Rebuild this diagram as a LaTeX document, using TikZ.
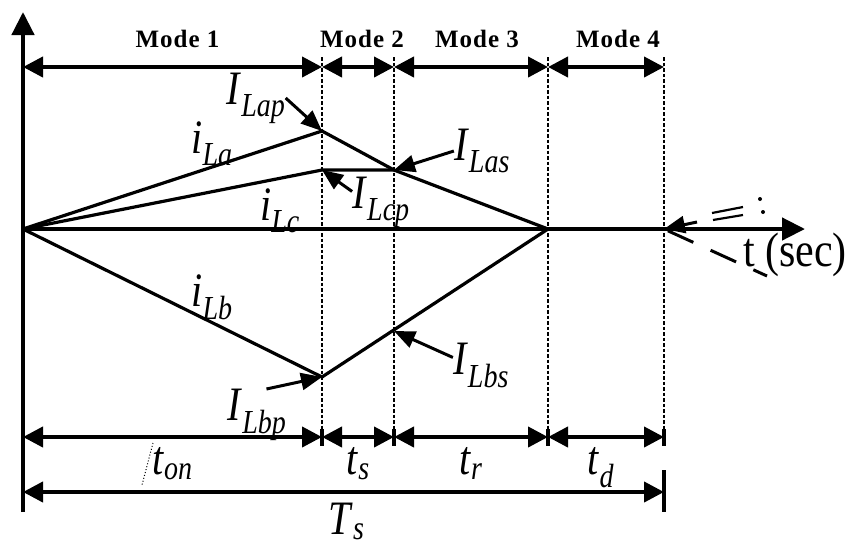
\documentclass[tikz,border=0pt]{standalone}
\usepackage{graphicx}
\usepackage{fontspec}
\setmainfont{Liberation Serif}
\newfontfamily\labfont{Liberation Serif}
\newfontfamily\modefont[LetterSpace=4]{Liberation Serif}
\usetikzlibrary{arrows.meta,positioning,calc}
\newcommand\cur[2]{\scalebox{1}[1.2]{\textit{#1}\textsubscript{\textit{#2}}}}
\tikzset{
  wavaxis/.style={line width=4.5pt,-{Triangle[length=23pt,width=22pt]}},
  wavcurve/.style={line width=3.2pt,line join=miter},
  wavguide/.style={line width=1.3pt,dash pattern=on 3.5pt off 2pt},
  wavspan/.style={line width=4pt,{Triangle[length=20pt,width=20pt]}-{Triangle[length=20pt,width=20pt]}},
  wavtotal/.style={line width=4pt,{Triangle[length=20pt,width=20pt]}-{Triangle[length=20pt,width=20pt]}},
  wavtick/.style={line width=4pt},
  wavpoint/.style={line width=3pt,-{Triangle[length=21pt,width=17pt]}},
  wavdash/.style={line width=3pt,dash pattern=on 28pt off 19pt,dash phase=13pt},
  wavmode/.style={font=\modefont\bfseries\fontsize{25}{25}\selectfont,inner sep=0pt},
  wavlabel/.style={font=\labfont\fontsize{40}{40}\selectfont,inner sep=0pt},
}

\begin{document}
\begin{tikzpicture}[x=1pt,y=-1pt]
\useasboundingbox (0,0) rectangle (849,547);
% time instants on the axis
\coordinate (o) at (23,229);
\coordinate (t1) at (322,229);
\coordinate (t2) at (394,229);
\coordinate (t3) at (548,229);
\coordinate (t4) at (664,229);
\coordinate (xend) at (805,229);
\coordinate (ytop) at (23,12);
\coordinate (ybot) at (23,512);
% rows
\coordinate (mrow) at (0,67);
\coordinate (brow) at (0,437);
\coordinate (srow) at (0,492);
\coordinate (gtop) at (0,57);
\coordinate (gbot) at (0,430);
% corners of the currents
\coordinate (pa) at (322,131);
\coordinate (pc) at (322,170);
\coordinate (pas) at (394,170);
\coordinate (pb) at (322,377);
\coordinate (pbs) at (394,331);

\draw[wavguide] (t1 |- gtop) -- (t1 |- gbot);
\draw[wavguide] (t2 |- gtop) -- (t2 |- gbot);
\draw[wavguide] (t3 |- gtop) -- (t3 |- gbot);
\draw[wavguide] (t4 |- gtop) -- (t4 |- gbot);

\draw[wavaxis] (o) -- (xend);
\draw[wavaxis] (ybot) -- (ytop);

\draw[wavcurve] (o) -- (pa) -- (pas) -- (t3);
\draw[wavcurve] (o) -- (pc) -- (pas);
\draw[wavcurve] (o) -- (pb) -- (t3);

% modes
\draw[wavspan] (o |- mrow) -- node[wavmode,above=17pt,xshift=5pt] (m1) {Mode 1} (t1 |- mrow);
\draw[wavspan] (t1 |- mrow) -- node[wavmode,above=17pt,xshift=4pt] (m2) {Mode 2} (t2 |- mrow);
\draw[wavspan] (t2 |- mrow) -- node[wavmode,above=17pt,xshift=6pt] (m3) {Mode 3} (t3 |- mrow);
\draw[wavspan] (t3 |- mrow) -- node[wavmode,above=17pt,xshift=12pt] (m4) {Mode 4} (t4 |- mrow);

% intervals
\draw[wavspan] (o |- brow) -- node[wavlabel,below=8pt] (ton) {\cur{t}{on}} (t1 |- brow);
\draw[wavspan] (t1 |- brow) -- node[wavlabel,below=8pt] (tts) {\cur{t}{s}} (t2 |- brow);
\draw[wavspan] (t2 |- brow) -- node[wavlabel,below=8pt] (ttr) {\cur{t}{r}} (t3 |- brow);
\draw[wavspan] (t3 |- brow) -- node[wavlabel,below=8pt,xshift=-5pt] (ttd) {\cur{t}{d}} (t4 |- brow);
\draw[wavtick] ($(t1 |- brow)+(0,-8)$) -- ($(t1 |- brow)+(0,9)$);
\draw[wavtick] ($(t2 |- brow)+(0,-8)$) -- ($(t2 |- brow)+(0,9)$);
\draw[wavtick] ($(t3 |- brow)+(0,-8)$) -- ($(t3 |- brow)+(0,9)$);
\draw[wavtick] ($(t4 |- brow)+(0,-8)$) -- ($(t4 |- brow)+(0,9)$);
\draw[wavtotal] (o |- srow) -- node[wavlabel,below=9pt,xshift=3pt] (tts2) {\cur{T}{s}} (t4 |- srow);
\draw[wavtick] ($(t4 |- srow)+(0,-22)$) -- ($(t4 |- srow)+(0,20)$);
\draw[dotted,line width=1pt] (153,443) -- (142,485);

% current labels
\node[wavlabel] (lap) at (256,98) {\cur{I}{Lap}};
\node[wavlabel] (ila) at (212,144) {\cur{i}{La}};
\node[wavlabel] (ilc) at (280,211) {\cur{i}{Lc}};
\node[wavlabel] (lcp) at (381,202) {\cur{I}{Lcp}};
\node[wavlabel] (las) at (482,151) {\cur{I}{Las}};
\node[wavlabel] (ilb) at (212,297) {\cur{i}{Lb}};
\node[wavlabel] (lbp) at (257,415) {\cur{I}{Lbp}};
\node[wavlabel] (lbs) at (481,365) {\cur{I}{Lbs}};
\draw[wavpoint] (lap.east) -- (pa);
\draw[wavpoint] (lcp.160) -- (pc);
\draw[wavpoint] (las.west) -- (pas);
\draw[wavpoint] (lbp.70) -- (pb);
\draw[wavpoint] (lbs.165) -- (pbs);

% time axis label
\node[font=\labfont\fontsize{42}{42}\selectfont,inner sep=0pt] (sec) at (795,255) {\scalebox{1}[1.15]{t (sec)}};
\coordinate (secdash) at (767,276);
\coordinate (sechead) at (697,222);
\draw[wavdash] (secdash) -- (t4);
\draw[wavpoint] (sechead) -- (t4);
\draw[line width=2.2pt] (712,213) -- (743,207);
\draw[line width=2.2pt] (713,220) -- (743,215);
\fill (760,199) circle (2pt);
\fill (763,212) circle (2pt);
\end{tikzpicture}
\end{document}
